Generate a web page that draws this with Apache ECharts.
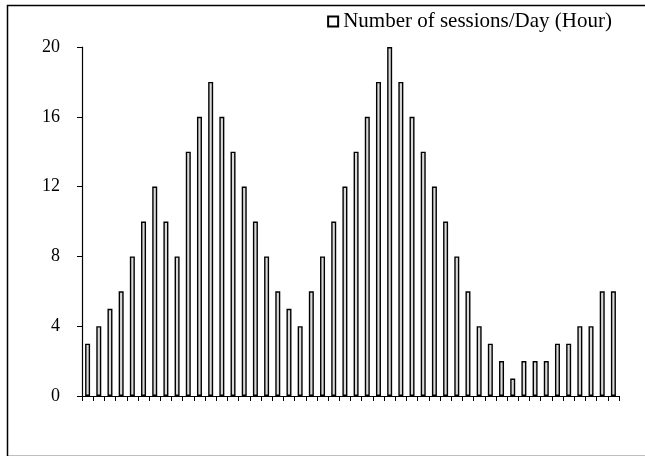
<!DOCTYPE html>
<html><head><meta charset="utf-8">
<script src="https://cdn.jsdelivr.net/npm/echarts@6/dist/echarts.min.js"></script>
<style>html,body{margin:0;padding:0;background:#fff}#c{width:645px;height:456px}</style>
</head><body><div id="c"></div>
<script>
const seriesName = 'Number of sessions/Day (Hour)';
const hours = [];
for (let i = 1; i <= 48; i++) hours.push(String(i));
const sessions = [3,4,5,6,8,10,12,10,8,14,16,18,16,14,12,10,8,6,5,4,6,8,10,12,14,16,18,20,18,16,14,12,10,8,6,4,3,2,1,2,2,2,3,3,4,4,6,6];
const yTicks = [0,4,8,12,16,20];

const font = 'Liberation Serif';
const chart = echarts.init(document.getElementById('c'));
chart.setOption({
  animation: false,
  backgroundColor: '#fff',
  graphic: [{type:'rect', left:5, top:3, shape:{width:700, height:451}, style:{fill:'none', stroke:'#000', lineWidth:1.5}, z:-1}],
  legend: {
    top: 6, right: 28, itemWidth: 10, itemHeight: 10, itemGap: 3,
    textStyle: {fontFamily: font, fontSize: 21, color:'#000'},
    data: [{name: seriesName, icon: 'rect', itemStyle:{color:'#fff', borderColor:'#000', borderWidth:2}}]
  },
  grid: {left: 82, right: 26, top: 47, bottom: 60},
  xAxis: {
    type: 'category', data: hours, boundaryGap: true,
    axisLine: {lineStyle:{color:'#000', width:1.2}},
    axisTick: {show:true, interval:0, length:5, inside:false, alignWithLabel:false, lineStyle:{color:'#000'}},
    axisLabel: {show:false, interval:0}
  },
  yAxis: {
    type: 'value', min: yTicks[0], max: yTicks[yTicks.length-1], interval: 4,
    splitLine: {show:false},
    axisLine: {show:true, lineStyle:{color:'#000', width:1.2}},
    axisTick: {show:true, length:5, lineStyle:{color:'#000'}},
    axisLabel: {fontFamily: font, fontSize: 18, color:'#000', margin: 22}
  },
  series: [{
    name: seriesName, type: 'bar', data: sessions, barWidth: 5,
    itemStyle: {color:'#d9d9d9', borderColor:'#000', borderWidth:1.4}
  }]
});
</script></body></html>
